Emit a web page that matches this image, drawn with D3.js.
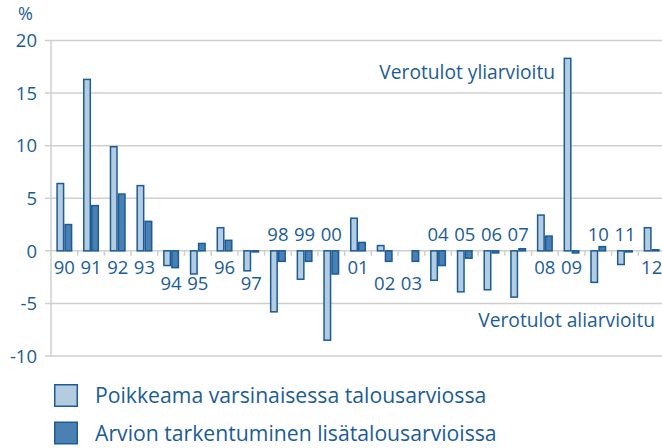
<!DOCTYPE html>
<html><head><meta charset="utf-8">
<script src="https://cdn.jsdelivr.net/npm/d3@7"></script>
<style>body{margin:0;background:#fff}svg{display:block}text{font-family:"Open Sans",sans-serif;fill:#1a5c99}</style>
</head><body>
<script>
const years = ["90","91","92","93","94","95","96","97","98","99","00","01","02","03","04","05","06","07","08","09","10","11","12"];
const original = [6.4,16.3,9.9,6.2,-1.4,-2.2,2.2,-1.9,-5.8,-2.7,-8.5,3.1,0.5,0,-2.8,-3.9,-3.7,-4.4,3.4,18.3,-3.0,-1.3,2.2];
const revision = [2.5,4.3,5.4,2.8,-1.6,0.7,1.0,-0.1,-1.0,-1.0,-2.2,0.8,-1.0,-1.0,-1.4,-0.7,-0.2,0.2,1.4,-0.2,0.4,-0.1,0.1];
const labelRow = ["r1","r1","r1","r1","r2","r2","r1","r2","up","up","up","r1","r2","r2","up","up","up","up","r1","r1","up","up","r1"];
const yTicks = [-10,-5,0,5,10,15,20];
const seriesNames = ["Poikkeama varsinaisessa talousarviossa","Arvion tarkentuminen lisätalousarvioissa"];
const annotations = ["Verotulot yliarvioitu","Verotulot aliarvioitu"];

const W=662,H=448;
const colors=["#b3cce0","#4b80b2"], stroke="#1c5b98", grid="#cfcfcf";
const svg=d3.select("body").append("svg").attr("width",W).attr("height",H);
const y=d3.scaleLinear().domain([-10,20]).range([356,40.5]);
const x0=d3.scaleBand().domain(years).range([51,665]).paddingInner(0.4).paddingOuter(0.2);
const x1=d3.scaleBand().domain([0,1]).range([0,x0.bandwidth()]);

svg.append("g").selectAll("line").data(yTicks).join("line")
  .attr("x1",45).attr("x2",W).attr("y1",d=>y(d)).attr("y2",d=>y(d))
  .attr("stroke",grid).attr("stroke-width",1.5);
svg.append("line").attr("x1",51).attr("x2",51).attr("y1",y(20)).attr("y2",y(-10)+1).attr("stroke",grid).attr("stroke-width",1.5);
svg.append("g").selectAll("text").data(yTicks).join("text")
  .attr("x",37).attr("y",d=>y(d)+6.8).attr("text-anchor","end").attr("font-size",18.5).text(d=>d);
svg.append("text").attr("x",18).attr("y",20).attr("font-size",18).text("%");

const step=x0.step();
svg.append("g").selectAll("line").data(years.slice(1)).join("line")
  .attr("x1",d=>x0(d)-step*0.2).attr("x2",d=>x0(d)-step*0.2)
  .attr("y1",y(0)).attr("y2",y(0)+5).attr("stroke",grid).attr("stroke-width",1.5);

const data=years.map((yr,i)=>({yr,vals:[original[i],revision[i]]}));
const g=svg.append("g").selectAll("g").data(data).join("g").attr("transform",d=>`translate(${x0(d.yr)},0)`);
g.selectAll("rect").data(d=>d.vals.map((v,k)=>({v,k}))).join("rect")
  .filter(d=>d.v!==0)
  .attr("x",d=>x1(d.k)+0.75).attr("width",x1.bandwidth()-1.5)
  .attr("y",d=>y(Math.max(0,d.v))).attr("height",d=>Math.abs(y(d.v)-y(0)))
  .attr("fill",d=>colors[d.k]).attr("stroke",stroke).attr("stroke-width",1.5);

const rowY={r1:274,r2:290,up:241};
svg.append("g").selectAll("text").data(years).join("text")
  .attr("x",d=>x0(d)+x0.bandwidth()/2).attr("y",(d,i)=>rowY[labelRow[i]])
  .attr("text-anchor","middle").attr("font-size",18.5).text(d=>d);

svg.append("text").attr("x",555).attr("y",79).attr("text-anchor","end").attr("font-size",19.2).text(annotations[0]);
svg.append("text").attr("x",655).attr("y",327).attr("text-anchor","end").attr("font-size",19.2).text(annotations[1]);

const lg=svg.append("g").selectAll("g").data(seriesNames).join("g").attr("transform",(d,i)=>`translate(0,${i*37.5})`);
lg.append("rect").attr("x",54.75).attr("y",384.75).attr("width",22.5).attr("height",21.5)
  .attr("fill",(d,i)=>colors[i]).attr("stroke",stroke).attr("stroke-width",1.5);
lg.append("text").attr("x",95).attr("y",403).attr("font-size",21.2).text(d=>d);
</script>
</body></html>
